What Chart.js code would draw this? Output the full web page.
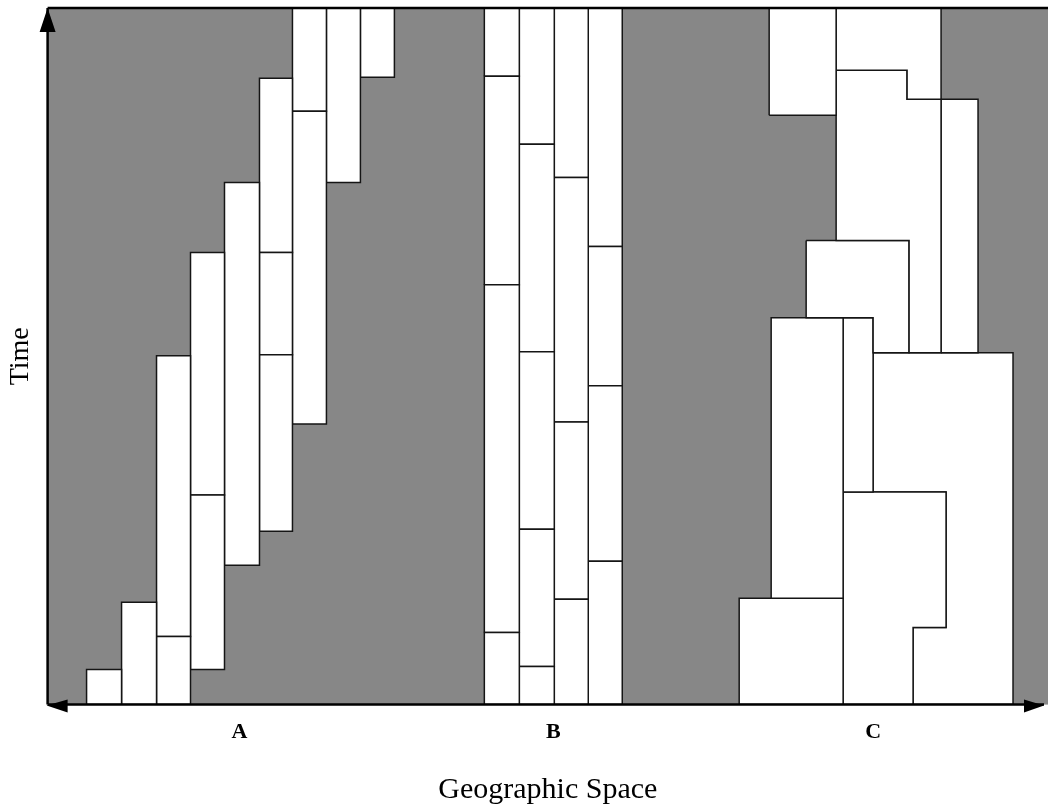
<!DOCTYPE html>
<html lang="en">
<head>
    <meta charset="UTF-8">
    <title>Time / Geographic Space</title>
    <style>
        body {
            margin: 0;
            background-color: #ffffff;
        }
        #chart {
            display: block;
        }
    </style>
</head>
<body>
    <canvas id="chart" width="1053" height="808"></canvas>

    <script src="https://cdn.jsdelivr.net/npm/chart.js@4.4.1/dist/chart.umd.min.js"></script>
    <script>
        // Axis extents (geographic units across, time units up)
        const spaceMax = 1001;
        const timeMax = 695;

        // Region labels under the x axis
        const groupLabels = ['A', 'B', 'C'];
        const groupCenters = [192, 506, 826];

        // Region A: column edges and the time cuts of each column
        const aEdges = [39, 74, 109, 143, 177, 212, 245, 279, 313, 347];
        const aCuts = [
            [0, 35],
            [0, 102],
            [0, 68, 348],
            [35, 209, 451],
            [139, 521],
            [173, 349, 451, 625],
            [280, 592, 695],
            [521, 695],
            [626, 695]
        ];

        // Region B: column edges and the time cuts of each column
        const bEdges = [437, 472, 507, 541, 575];
        const bCuts = [
            [0, 72, 419, 627, 695],
            [0, 38, 175, 352, 559, 695],
            [0, 105, 282, 526, 695],
            [0, 143, 318, 457, 695]
        ];

        // Region C: irregular blocks as outlines [space, time]
        const cBlocks = [
            [[722, 588], [789, 588], [789, 695], [722, 695]],
            [[789, 695], [894, 695], [894, 604], [860, 604], [860, 633], [789, 633]],
            [[789, 633], [860, 633], [860, 604], [894, 604], [894, 351], [862, 351], [862, 463], [789, 463]],
            [[894, 351], [931, 351], [931, 604], [894, 604]],
            [[759, 463], [862, 463], [862, 351], [826, 351], [826, 386], [759, 386]],
            [[724, 106], [796, 106], [796, 386], [724, 386]],
            [[692, 0], [796, 0], [796, 106], [692, 106]],
            [[796, 212], [826, 212], [826, 386], [796, 386]],
            [[796, 212], [899, 212], [899, 77], [866, 77], [866, 0], [796, 0]],
            [[826, 351], [966, 351], [966, 0], [866, 0], [866, 77], [899, 77], [899, 212], [826, 212]]
        ];

        function outline(points) {
            const pts = points.map(p => ({x: p[0], y: p[1]}));
            pts.push({x: points[0][0], y: points[0][1]});
            return pts;
        }

        function columnBoxes(edges, cuts) {
            const out = [];
            cuts.forEach((c, i) => {
                for (let k = 0; k < c.length - 1; k++) {
                    out.push(outline([
                        [edges[i], c[k]], [edges[i + 1], c[k]],
                        [edges[i + 1], c[k + 1]], [edges[i], c[k + 1]]
                    ]));
                }
            });
            return out;
        }

        const shapes = []
            .concat(columnBoxes(aEdges, aCuts))
            .concat(columnBoxes(bEdges, bCuts))
            .concat(cBlocks.map(outline));

        const datasets = shapes.map(pts => ({
            data: pts,
            showLine: true,
            fill: 'shape',
            tension: 0,
            pointRadius: 0,
            pointHoverRadius: 0,
            borderWidth: 1.5,
            borderColor: '#151515',
            backgroundColor: '#ffffff',
            borderJoinStyle: 'miter'
        }));

        // gray field behind the blocks, frame line and arrows on top
        const framePlugin = {
            id: 'frame',
            beforeDraw(chart) {
                const {ctx, chartArea: a} = chart;
                ctx.save();
                ctx.fillStyle = '#878787';
                ctx.fillRect(a.left, a.top, a.right - a.left, a.bottom - a.top);
                ctx.restore();
            },
            afterDraw(chart) {
                const {ctx, chartArea: a} = chart;
                ctx.save();
                ctx.strokeStyle = '#000';
                ctx.fillStyle = '#000';
                ctx.lineWidth = 2.5;
                ctx.beginPath();
                ctx.moveTo(a.left, a.top);
                ctx.lineTo(a.right, a.top);
                ctx.stroke();

                ctx.lineWidth = 2.5;
                ctx.beginPath();
                ctx.moveTo(a.left, a.bottom);
                ctx.lineTo(a.left, a.top);
                ctx.moveTo(a.left, a.bottom);
                ctx.lineTo(a.right - 4, a.bottom);
                ctx.stroke();

                // up arrow
                ctx.beginPath();
                ctx.moveTo(a.left, a.top);
                ctx.lineTo(a.left - 8, a.top + 24);
                ctx.lineTo(a.left + 8, a.top + 24);
                ctx.closePath();
                ctx.fill();
                // left arrow
                ctx.beginPath();
                ctx.moveTo(a.left - 1, a.bottom + 1);
                ctx.lineTo(a.left + 20, a.bottom - 5);
                ctx.lineTo(a.left + 20, a.bottom + 8);
                ctx.closePath();
                ctx.fill();
                // right arrow
                ctx.beginPath();
                ctx.moveTo(a.right - 4, a.bottom + 1);
                ctx.lineTo(a.right - 24, a.bottom - 5);
                ctx.lineTo(a.right - 24, a.bottom + 8);
                ctx.closePath();
                ctx.fill();
                ctx.restore();
            }
        };

        var ctx = document.getElementById('chart').getContext('2d');
        var chart = new Chart(ctx, {
            type: 'scatter',
            data: {datasets: datasets},
            options: {
                responsive: false,
                devicePixelRatio: 1,
                animation: false,
                events: [],
                layout: {
                    padding: {left: 4, top: 8, right: 5, bottom: 0}
                },
                plugins: {
                    legend: {display: false},
                    tooltip: {enabled: false}
                },
                scales: {
                    x: {
                        type: 'linear',
                        min: 0,
                        max: spaceMax,
                        grid: {display: false, drawTicks: false},
                        border: {display: false},
                        afterBuildTicks: axis => {
                            axis.ticks = groupCenters.map(v => ({value: v}));
                        },
                        ticks: {
                            autoSkip: false,
                            maxRotation: 0,
                            padding: 15,
                            color: '#000',
                            font: {family: 'Liberation Serif', size: 22, weight: 'bold'},
                            callback: (v, i) => groupLabels[i]
                        },
                        title: {
                            display: true,
                            text: 'Geographic Space',
                            color: '#000',
                            font: {family: 'Liberation Serif', size: 30},
                            padding: {top: 11, bottom: 0}
                        }
                    },
                    y: {
                        type: 'linear',
                        min: 0,
                        max: timeMax,
                        grid: {display: false, drawTicks: false},
                        border: {display: false},
                        ticks: {display: false},
                        title: {
                            display: true,
                            text: 'Time',
                            color: '#000',
                            font: {family: 'Liberation Serif', size: 28},
                            padding: {top: 0, bottom: 10}
                        }
                    }
                }
            },
            plugins: [framePlugin]
        });
    </script>
</body>
</html>
